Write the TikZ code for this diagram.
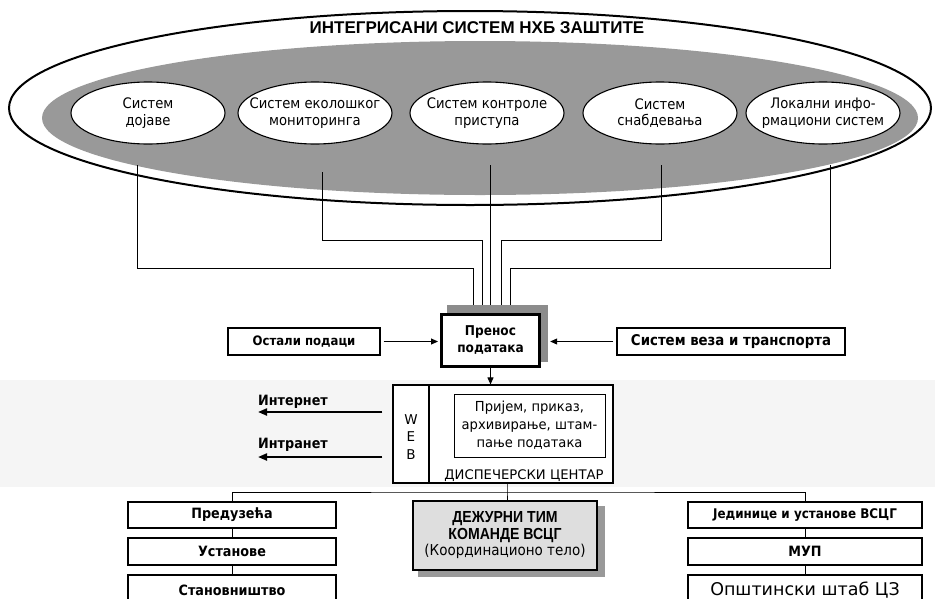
\documentclass[tikz,border=0pt]{standalone}
\usepackage{fontspec}
\setmainfont{DejaVu Sans}
\newfontfamily\tahf[FakeStretch=0.9]{DejaVu Sans}
\newfontfamily\verf[FakeStretch=0.95]{DejaVu Sans}
\newfontfamily\ellf[FakeStretch=0.91]{DejaVu Sans}
\newfontfamily\arlf{Liberation Sans}
\newfontfamily\arlnf[FakeStretch=0.88]{Liberation Sans}
\usetikzlibrary{shapes.geometric,arrows.meta}

\begin{document}
\begin{tikzpicture}[x=1pt,y=-1pt,
  sysell/.style={ellipse,draw,line width=1.1pt,fill=white,minimum width=154pt,
    minimum height=62pt,inner xsep=-14pt,inner ysep=0pt,align=center,
    font=\ellf\fontsize{14.5}{16.5}\selectfont},
  rbox/.style={draw,line width=1.1pt,fill=white,inner sep=0pt,align=center,
    font=\tahf\bfseries\fontsize{14.2}{16}\selectfont},
  wire/.style={line width=0.8pt},
  arr/.style={line width=0.9pt,-{Triangle[length=7pt,width=6pt]}},
  warr/.style={line width=2pt,-{Triangle[length=9pt,width=7pt]}}
]
\useasboundingbox (0,0) rectangle (935,598);
% faint band behind the dispatch centre
\fill[black!4] (0,380) rectangle (935,487);

% integrated system: outer ring, grey core, title
\node[ellipse,draw,line width=2pt,minimum width=922pt,minimum height=194pt,inner sep=0pt] (outer) at (470,108) {};
\node[ellipse,fill=black!40,minimum width=876pt,minimum height=154pt,inner sep=0pt] (core) at (480,118) {};
\node[font=\arlf\bfseries\fontsize{17}{20}\selectfont] (title) at (477,28) {ИНТЕГРИСАНИ СИСТЕМ НХБ ЗАШТИТЕ};

% subsystems
\node[sysell] (e1) at (148,113) {Систем\\дојаве};
\node[sysell] (e2) at (315,113) {Систем еколошког\\мониторинга};
\node[sysell] (e3) at (487,113) {Систем контроле\\приступа};
\node[sysell] (e4) at (660,113) {Систем\\снабдевања};
\node[sysell] (e5) at (823,113) {Локални инфо-\\рмациони систем};

% data transfer block with its shadow
\node[fill=black!45,minimum width=101pt,minimum height=57pt,inner sep=0pt] (prsh) at (497.5,333.5) {};
\node[draw,line width=3pt,fill=white,minimum width=98pt,minimum height=52pt,inner sep=0pt,align=center,
  font=\tahf\bfseries\fontsize{13.5}{17}\selectfont] (prenos) at (490.5,340.5) {Пренос\\података};

% feeder lines from the subsystems
\coordinate (s1) at (137,165);
\coordinate (s2) at (322,172);
\coordinate (s3) at (490,165);
\coordinate (s4) at (661,165);
\coordinate (s5) at (830,165);
\draw[wire] (s1) |- (473,268) -- (473,0 |- prsh.north);
\draw[wire] (s2) |- (482,240) -- (482,0 |- prsh.north);
\draw[wire] (s3) -- (s3 |- prsh.north);
\draw[wire] (s4) |- (501,240) -- (501,0 |- prsh.north);
\draw[wire] (s5) |- (510,268) -- (510,0 |- prsh.north);

% side inputs
\node[rbox,minimum width=152pt,minimum height=27pt,font=\tahf\bfseries\fontsize{13}{16}\selectfont] (ost) at (304,341.5) {Остали подаци};
\node[rbox,minimum width=228pt,minimum height=27pt,font=\tahf\bfseries\fontsize{14.8}{16}\selectfont] (veza) at (731,341.5) {Систем веза и транспорта};
\draw[arr,shorten <=3pt,shorten >=2pt] (ost.east) -- (prenos.west |- ost.east);
\draw[arr,shorten <=3pt,shorten >=2pt] (veza.west) -- (prsh.east |- veza.west);

% dispatch centre
\node[draw,line width=1.1pt,fill=white,minimum width=220pt,minimum height=98pt,inner sep=0pt] (disp) at (503,434) {};
\draw[line width=1.1pt] (disp.north -| 429,0) -- (disp.south -| 429,0);
\node[align=center,inner sep=0pt,font=\fontsize{13.5}{17.5}\selectfont] (web) at (411,437) {W\\E\\B};
\node[draw,line width=1pt,minimum width=151pt,minimum height=63pt,inner sep=0pt,align=center,
  font=\verf\fontsize{13.8}{18}\selectfont] (recv) at (529.5,425.5) {Пријем, приказ,\\архивирање, штам-\\пање података};
\node[inner sep=0pt,font=\fontsize{13.2}{15}\selectfont] (dlab) at (524,476) {ДИСПЕЧЕРСКИ ЦЕНТАР};
\draw[arr] (prenos.south) -- (prenos.south |- disp.north);

% outgoing web links
\coordinate (inetEnd) at (258,412);
\coordinate (intrEnd) at (258,457);
\draw[warr,shorten <=10pt] (disp.west |- inetEnd) -- (inetEnd);
\draw[warr,shorten <=10pt] (disp.west |- intrEnd) -- (intrEnd);
\node[anchor=west,inner sep=0pt,font=\tahf\bfseries\fontsize{14.2}{16}\selectfont] (inet) at (258,402) {Интернет};
\node[anchor=west,inner sep=0pt,font=\tahf\bfseries\fontsize{14.2}{16}\selectfont] (intr) at (258,445) {Интранет};

% recipients
\node[rbox,minimum width=208pt,minimum height=26pt] (pred) at (232,515) {Предузећа};
\node[rbox,minimum width=208pt,minimum height=27pt] (ust) at (232,551.5) {Установе};
\node[rbox,minimum width=208pt,minimum height=30pt] (stan) at (232,590) {Становништво};
\node[rbox,minimum width=234pt,minimum height=26pt,font=\tahf\bfseries\fontsize{13.3}{16}\selectfont] (jed) at (805,515) {Јединице и установе ВСЦГ};
\node[rbox,minimum width=234pt,minimum height=27pt] (mup) at (805,551.5) {МУП};
\node[rbox,minimum width=234pt,minimum height=30pt,font=\fontsize{17.5}{20}\selectfont] (opst) at (805,590) {Општински штаб ЦЗ};

\node[fill=black!40,minimum width=187pt,minimum height=71pt,inner sep=0pt] (dutysh) at (511,541.5) {};
\node[draw,line width=2pt,fill=black!13,minimum width=184pt,minimum height=69pt,inner sep=0pt,align=center,
  font=\arlnf\fontsize{16}{16.5}\selectfont] (duty) at (505,535.5)
  {\textbf{ДЕЖУРНИ ТИМ}\\\textbf{КОМАНДЕ ВСЦГ}\\{\tahf\fontsize{15}{16.5}\selectfont (Координационо тело)}};

% distribution bus
\coordinate (bus) at (507,492);
\draw[wire] (disp.south -| bus) -- (bus) -- (bus |- duty.north);
\draw[wire] (pred.north) |- (bus) -| (jed.north);
\draw[wire] (pred) -- (ust);
\draw[wire] (ust) -- (stan);
\draw[wire] (jed) -- (mup);
\draw[wire] (mup) -- (opst);
\end{tikzpicture}
\end{document}
